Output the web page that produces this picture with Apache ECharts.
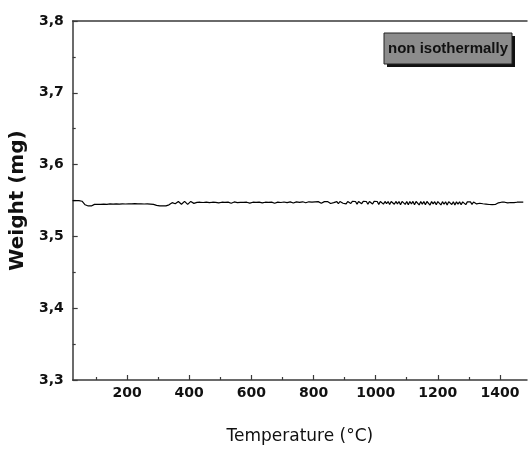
<!DOCTYPE html>
<html><head><meta charset="utf-8">
<script src="https://cdn.jsdelivr.net/npm/echarts@6/dist/echarts.min.js"></script>
<style>html,body{margin:0;padding:0;background:#fff}#c{width:529px;height:450px}</style>
</head><body><div id="c"></div>
<script>
const temperatures = [25,35,45,55,65,75,85,95,105,115,125,135,145,155,165,175,185,195,205,215,225,235,245,255,265,275,285,295,305,315,325,335,345,355,365,375,385,395,405,415,425,435,445,455,465,475,485,495,505,515,525,535,545,555,565,575,585,595,605,615,625,635,645,655,665,675,685,695,705,715,725,735,745,755,765,775,785,
795,800,805,810,815,820,825,830,835,840,845,850,855,860,865,870,875,880,885,890,895,900,905,910,915,920,925,930,935,940,945,950,955,960,965,970,975,980,985,990,995,1000,1005,1010,1015,1020,1025,1030,1035,1040,1045,1050,1055,1060,1065,1070,1075,1080,1085,1090,1095,1100,1105,1110,1115,1120,1125,1130,1135,1140,1145,1150,1155,1160,1165,1170,1175,1180,1185,1190,1195,1200,1205,1210,1215,1220,1225,1230,1235,1240,1245,1250,1255,1260,1265,1270,1275,1280,1285,1290,1295,1300,1305,1310,1315,1320,1325,1330,1335,1340,1345,1350,1355,1360,1365,1370,1375,1380,1385,1390,1395,1400,1405,1410,1415,1420,1425,1430,1435,1440,1445,1450,1455,1460,1465,1470,1475];
const weights = [3.5497,3.5497,3.5497,3.5490,3.5440,3.5424,3.5424,3.5446,3.5448,3.5446,3.5450,3.5447,3.5452,3.5449,3.5453,3.5450,3.5454,3.5451,3.5455,3.5452,3.5456,3.5453,3.5455,3.5451,3.5453,3.5450,3.5446,3.5432,3.5426,3.5424,3.5426,3.5440,3.5470,3.5455,3.5486,3.5448,3.5488,3.5446,3.5487,3.5460,3.5474,3.5476,3.5472,3.5477,3.5471,3.5476,3.5473,3.5466,3.5476,3.5474,3.5478,3.5462,3.5480,3.5470,3.5475,3.5473,3.5476,3.5464,3.5476,3.5474,3.5477,3.5466,3.5476,3.5475,3.5478,3.5462,3.5477,3.5472,3.5479,3.5470,3.5480,3.5465,3.5481,3.5474,3.5482,3.5468,3.5482,
3.5478,3.5484,3.5482,3.5470,3.5484,3.5483,3.5462,3.5485,3.5484,3.5466,3.5485,3.5486,3.5458,3.5485,3.5470,3.5486,3.5484,3.5455,3.5486,3.5485,3.5462,3.5487,3.5452,3.5486,3.5485,3.5458,3.5487,3.5468,3.5486,3.5450,3.5487,3.5486,3.5456,3.5487,3.5462,3.5486,3.5448,3.5487,3.5485,3.5452,3.5487,3.5460,3.5486,3.5446,3.5487,3.5486,3.5450,3.5487,3.5456,3.5486,3.5444,3.5487,3.5485,3.5448,3.5487,3.5454,3.5486,3.5442,3.5487,3.5486,3.5446,3.5487,3.5440,3.5486,3.5452,3.5487,3.5442,3.5486,3.5485,3.5438,3.5486,3.5450,3.5485,3.5440,3.5486,3.5484,3.5436,3.5485,3.5452,3.5484,3.5440,3.5485,3.5483,3.5438,3.5484,3.5448,3.5483,3.5436,3.5484,3.5482,3.5444,3.5483,3.5436,3.5482,3.5450,3.5482,3.5440,3.5481,3.5480,3.5442,3.5481,3.5456,3.5480,3.5446,3.5479,3.5478,3.5452,3.5477,3.5462,3.5470,3.5455,3.5458,3.5450,3.5446,3.5444,3.5445,3.5443,3.5446,3.5444,3.5452,3.5468,3.5474,3.5476,3.5455,3.5476,3.5477,3.5466,3.5476,3.5472,3.5466,3.5470,3.5478,3.5476,3.5470,3.5476,3.5475,3.5476];
const xMajorTicks = [200,400,600,800,1000,1200,1400];
const xMinorTicks = [100,300,500,700,900,1100,1300];
const yTicks = [3.3,3.4,3.5,3.6,3.7,3.8];
const xTitle = 'Temperature (°C)';
const yTitle = 'Weight (mg)';
const noteText = 'non isothermally';

const axisColor = '#3a3a3a';
const chart = echarts.init(document.getElementById('c'), null, {renderer:'canvas'});
const X_MIN = 25, X_MAX = 1487;
chart.setOption({
  animation:false,
  backgroundColor:'#fff',
  grid:{left:72,right:2,top:21,bottom:66,containLabel:false},
  xAxis:[
    {type:'value',min:X_MIN,max:X_MAX,position:'bottom',
     name:xTitle,nameLocation:'middle',nameGap:48,
     nameTextStyle:{fontFamily:'DejaVu Sans',fontSize:17,color:'#111'},
     axisLine:{show:true,onZero:false,lineStyle:{color:axisColor,width:1.5}},
     axisTick:{show:true,inside:true,length:5,customValues:xMajorTicks,lineStyle:{color:axisColor,width:1.2}},
     axisLabel:{show:true,customValues:xMajorTicks,margin:6,fontFamily:'DejaVu Sans',fontWeight:'bold',fontSize:14,color:'#111',
       formatter:function(v){ return String(Math.round(v)); }},
     splitLine:{show:false}},
    {type:'value',min:X_MIN,max:X_MAX,position:'bottom',
     axisLine:{show:false},
     axisTick:{show:true,inside:true,length:3,customValues:xMinorTicks,lineStyle:{color:axisColor,width:1.2}},
     axisLabel:{show:false},splitLine:{show:false}},
    {type:'value',min:X_MIN,max:X_MAX,position:'top',
     axisLine:{show:true,onZero:false,lineStyle:{color:axisColor,width:1.5}},
     axisTick:{show:false},axisLabel:{show:false},splitLine:{show:false}}
  ],
  yAxis:[
    {type:'value',min:3.3,max:3.8,interval:0.1,
     name:yTitle,nameLocation:'middle',nameGap:37,
     nameTextStyle:{fontFamily:'DejaVu Sans',fontWeight:'bold',fontSize:20,color:'#111'},
     axisLine:{show:true,onZero:false,lineStyle:{color:axisColor,width:1.5}},
     axisTick:{show:true,inside:true,length:5,lineStyle:{color:axisColor,width:1.2}},
     minorTick:{show:true,splitNumber:2,length:3,lineStyle:{color:axisColor,width:1.2}},
     axisLabel:{margin:9,fontFamily:'DejaVu Sans',fontWeight:'bold',fontSize:14,color:'#111',
       formatter:function(v){ const t = yTicks.find(k=>Math.abs(k-v)<1e-6); return (t!==undefined?t:v).toFixed(1).replace('.',','); }},
     splitLine:{show:false}}
  ],
  series:[{
    type:'line',xAxisIndex:0,yAxisIndex:0,
    data:temperatures.map((t,i)=>[t,weights[i]]),
    showSymbol:false,symbol:'none',
    lineStyle:{color:'#000',width:1.2},
    z:5
  }],
  graphic:[
    {type:'rect',shape:{x:387,y:36,width:128,height:31},style:{fill:'#111'},z:10},
    {type:'rect',shape:{x:384,y:33,width:128,height:31},style:{fill:'#8c8c8c',stroke:'#222',lineWidth:1},z:11},
    {type:'text',x:448,y:49,style:{text:noteText,font:'bold 15px "Liberation Sans"',fill:'#111',align:'center',verticalAlign:'middle'},z:12}
  ]
});
</script>
</body></html>
